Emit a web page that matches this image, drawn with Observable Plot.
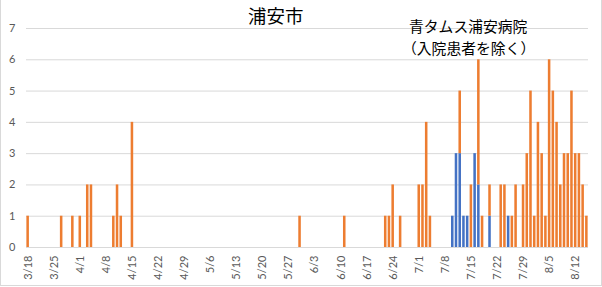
<!DOCTYPE html>
<html>
<head>
<meta charset="utf-8">
<script src="https://cdn.jsdelivr.net/npm/d3@7"></script>
<script src="https://cdn.jsdelivr.net/npm/@observablehq/plot@0.6"></script>
<style>
  html, body { margin: 0; padding: 0; background: #fff; }
  #wrap { position: relative; width: 602px; height: 287px; overflow: hidden; }
  #frame { position: absolute; left: 0; top: -2px; width: 600px; height: 286px; border: 1px solid #d9d9d9; box-sizing: content-box; pointer-events: none; }
  .t { position: absolute; font-family: "Noto Sans CJK JP", sans-serif; color: #000; white-space: nowrap; line-height: 1; }
  #title { left: 248px; top: 6px; font-size: 18.5px; }
  #note1 { left: 409px; top: 19px; font-size: 14.8px; }
  #note2 { left: 402px; top: 41px; font-size: 14.8px; }
</style>
</head>
<body>
<div id="wrap">
  <div id="chart"></div>
  <div id="frame"></div>
  <div class="t" id="title">浦安市</div>
  <div class="t" id="note1">青タムス浦安病院</div>
  <div class="t" id="note2">（入院患者を除く）</div>
</div>
<script>
// Daily cases, 浦安市 (orange) and 青タムス浦安病院 (blue)
const orangeDates = ["3/18","3/27","3/30","4/1","4/3","4/4","4/10","4/11","4/12","4/15",
  "5/30","6/11","6/22","6/23","6/24","6/26","7/1","7/2","7/3","7/4",
  "7/12","7/15","7/17","7/18","7/20","7/23","7/24","7/26","7/27",
  "7/29","7/30","7/31","8/1","8/2","8/3","8/4","8/5","8/6","8/7","8/8","8/9","8/10","8/11","8/12","8/13","8/14","8/15"];
const orangeValues = [1,1,1,1,2,2,1,2,1,4,
  1,1,1,1,2,1,2,2,4,1,
  2,2,4,1,1,2,2,1,2,
  2,3,5,1,4,3,1,6,5,4,2,3,3,5,3,3,2,1];
const blueDates = ["7/10","7/11","7/12","7/13","7/14","7/16","7/17","7/20","7/25"];
const blueValues = [1,3,3,1,1,3,2,1,1];

const seriesNames = ["浦安市", "青タムス浦安病院"];
const seriesColors = ["#ED7D31", "#4472C4"];

const startDate = new Date(2020, 2, 18);
const endDate = new Date(2020, 7, 16);
const dayLabels = d3.timeDay.range(startDate, endDate).map(d => `${d.getMonth() + 1}/${d.getDate()}`);
const tickLabels = dayLabels.filter((d, i) => i % 7 === 0);
const yTicks = [0, 1, 2, 3, 4, 5, 6, 7];

const data = [
  ...blueDates.map((d, i) => ({date: d, value: blueValues[i], series: seriesNames[1]})),
  ...orangeDates.map((d, i) => ({date: d, value: orangeValues[i], series: seriesNames[0]}))
];

const chart = Plot.plot({
  width: 602,
  height: 287,
  marginLeft: 26,
  marginRight: 14,
  marginTop: 28,
  marginBottom: 40,
  style: {fontFamily: "Lato, 'Noto Sans', sans-serif", fontSize: "11px", color: "#595959", background: "transparent"},
  x: {type: "band", domain: dayLabels, paddingInner: 0.32, paddingOuter: 0.1},
  y: {domain: [0, 7]},
  color: {domain: seriesNames, range: seriesColors},
  marks: [
    Plot.gridY(yTicks, {stroke: "#d9d9d9", strokeOpacity: 1, strokeWidth: 1}),
    Plot.barY(data, Plot.stackY({x: "date", y: "value", fill: "series", order: [seriesNames[1], seriesNames[0]]})),
    Plot.axisX({ticks: tickLabels, tickSize: 0, tickPadding: 8, tickRotate: -90, label: null, fill: "#595959"}),
    Plot.axisY({ticks: yTicks, tickSize: 0, tickPadding: 11, label: null, fill: "#595959", tickFormat: d => d})
  ]
});
document.getElementById("chart").appendChild(chart);
</script>
</body>
</html>
